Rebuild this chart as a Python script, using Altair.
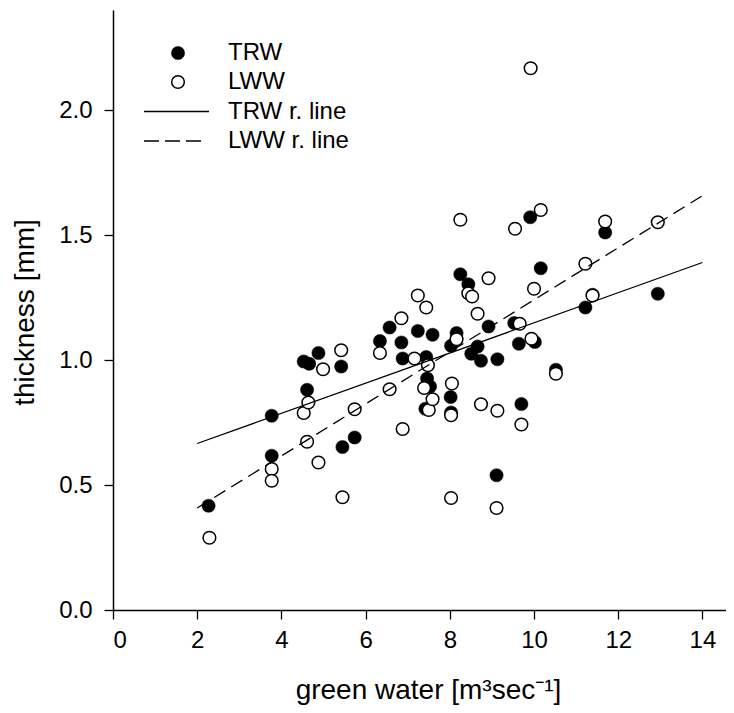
import altair as alt
import pandas as pd

# ---- data ----
trw_x = [2.27, 3.77, 3.77, 4.53, 4.66, 4.88, 4.61, 5.42, 5.45, 5.74,
         6.34, 6.57, 6.85, 6.88, 7.24, 7.44, 7.59, 7.46, 7.53, 7.42,
         8.02, 8.03, 8.03, 8.16, 8.25, 8.44, 8.51, 8.66, 8.74, 8.92,
         9.13, 9.11, 9.53, 9.64, 9.70, 9.91, 10.02, 10.16, 10.52, 11.22,
         11.39, 11.69, 12.94]
trw_y = [0.417, 0.777, 0.617, 0.994, 0.985, 1.028, 0.881, 0.974, 0.652, 0.690,
         1.076, 1.130, 1.070, 1.006, 1.116, 1.012, 1.101, 0.926, 0.894, 0.805,
         0.852, 0.790, 1.057, 1.108, 1.343, 1.303, 1.025, 1.054, 0.997, 1.134,
         1.003, 0.539, 1.148, 1.065, 0.824, 1.571, 1.072, 1.367, 0.961, 1.210,
         1.261, 1.510, 1.265]

lww_x = [2.29, 3.77, 3.77, 4.53, 4.64, 4.61, 4.88, 4.99, 5.42, 5.45,
         5.74, 6.34, 6.57, 6.85, 6.88, 7.16, 7.24, 7.44, 7.48, 7.39,
         7.50, 7.59, 8.03, 8.05, 8.03, 8.16, 8.25, 8.44, 8.53, 8.66,
         8.74, 8.92, 9.13, 9.11, 9.55, 9.66, 9.70, 9.92, 10.00, 9.94,
         10.16, 10.52, 11.22, 11.39, 11.69, 12.94]
lww_y = [0.289, 0.564, 0.517, 0.788, 0.830, 0.673, 0.590, 0.963, 1.039, 0.451,
         0.803, 1.028, 0.883, 1.167, 0.724, 1.006, 1.258, 1.210, 0.979, 0.888,
         0.800, 0.843, 0.448, 0.906, 0.779, 1.083, 1.561, 1.267, 1.254, 1.185,
         0.823, 1.327, 0.797, 0.408, 1.525, 1.145, 0.742, 2.167, 1.285, 1.085,
         1.600, 0.945, 1.385, 1.258, 1.554, 1.551]

line_x = [2, 14]
trw_line_y = [0.666, 1.390]
lww_line_y = [0.408, 1.657]

x_ticks = [0, 2, 4, 6, 8, 10, 12, 14]
y_ticks = [0.0, 0.5, 1.0, 1.5, 2.0]
legend_labels = ["TRW", "LWW", "TRW r. line", "LWW r. line"]

FONT = "Liberation Sans"

trw_df = pd.DataFrame({"x": trw_x, "y": trw_y})
lww_df = pd.DataFrame({"x": lww_x, "y": lww_y})
trw_line_df = pd.DataFrame({"x": line_x, "y": trw_line_y})
lww_line_df = pd.DataFrame({"x": line_x, "y": lww_line_y})

xscale = alt.Scale(domain=[0, 14.56], nice=False, zero=False)
yscale = alt.Scale(domain=[0, 2.4], nice=False, zero=False)

x_axis = alt.Axis(
    values=x_ticks, format="d", grid=False,
    tickSize=9, tickWidth=1.3, tickColor="black",
    domainColor="black", domainWidth=1.5,
    labelFont=FONT, labelFontSize=24, labelColor="black", labelPadding=9,
    title="green water [m³sec⁻¹]", titleFont=FONT, titleFontSize=28,
    titleFontWeight="normal", titleColor="black",
    titleX=315, titleY=80, titleBaseline="middle", titleAlign="center",
)
y_axis = alt.Axis(
    values=y_ticks, format=".1f", grid=False,
    tickSize=9, tickWidth=1.3, tickColor="black",
    domainColor="black", domainWidth=1.5,
    labelFont=FONT, labelFontSize=24, labelColor="black", labelPadding=12,
    title="thickness [mm]", titleFont=FONT, titleFontSize=28,
    titleFontWeight="normal", titleColor="black",
    titleX=-88, titleY=302, titleBaseline="middle", titleAlign="center",
)

X = alt.X("x:Q", scale=xscale, axis=x_axis)
Y = alt.Y("y:Q", scale=yscale, axis=y_axis)

trw_pts = alt.Chart(trw_df).mark_point(
    shape="circle", filled=True, fill="black", stroke="black",
    strokeWidth=0.5, size=175, opacity=1
).encode(x=X, y=Y)

lww_pts = alt.Chart(lww_df).mark_point(
    shape="circle", filled=True, fill="white", stroke="black",
    strokeWidth=1.5, size=160, opacity=1
).encode(x=alt.X("x:Q", scale=xscale), y=alt.Y("y:Q", scale=yscale))

trw_line = alt.Chart(trw_line_df).mark_line(
    color="black", strokeWidth=1.3
).encode(x=alt.X("x:Q", scale=xscale), y=alt.Y("y:Q", scale=yscale))

lww_line = alt.Chart(lww_line_df).mark_line(
    color="black", strokeWidth=1.3, strokeDash=[13, 7]
).encode(x=alt.X("x:Q", scale=xscale), y=alt.Y("y:Q", scale=yscale))

# ---- custom legend (pixel layout inside the plot) ----
one = pd.DataFrame({"a": [0]})
leg_sym_x = 65
leg_txt_x = 115
leg_rows = [43, 72, 101.5, 131]

leg_trw = alt.Chart(one).mark_point(
    shape="circle", filled=True, fill="black", stroke="black",
    strokeWidth=0.5, size=175, opacity=1
).encode(x=alt.value(leg_sym_x), y=alt.value(leg_rows[0]))
leg_lww = alt.Chart(one).mark_point(
    shape="circle", filled=True, fill="white", stroke="black",
    strokeWidth=1.5, size=160, opacity=1
).encode(x=alt.value(leg_sym_x), y=alt.value(leg_rows[1]))
leg_l1 = alt.Chart(one).mark_rule(color="black", strokeWidth=1.3).encode(
    x=alt.value(31), x2=alt.value(96), y=alt.value(leg_rows[2]))
leg_l2 = alt.Chart(one).mark_rule(
    color="black", strokeWidth=1.3, strokeDash=[15, 6]).encode(
    x=alt.value(31), x2=alt.value(93), y=alt.value(leg_rows[3]))

leg_text_df = pd.DataFrame({"label": legend_labels, "row": leg_rows})
leg_texts = [
    alt.Chart(leg_text_df[leg_text_df.label == lab]).mark_text(
        align="left", baseline="middle", font=FONT, fontSize=24, color="black"
    ).encode(text="label:N", x=alt.value(leg_txt_x), y=alt.value(r))
    for lab, r in zip(legend_labels, leg_rows)
]

chart = alt.layer(
    trw_pts, lww_pts, trw_line, lww_line,
    leg_trw, leg_lww, leg_l1, leg_l2, *leg_texts
).properties(
    width=613, height=600,
    autosize=alt.AutoSizeParams(type="none"),
    padding={"left": 105, "top": 2, "right": 0, "bottom": 95},
    background="white",
).configure_view(stroke=None)

chart.save("out.html", embed_options={"renderer": "svg", "actions": False})
